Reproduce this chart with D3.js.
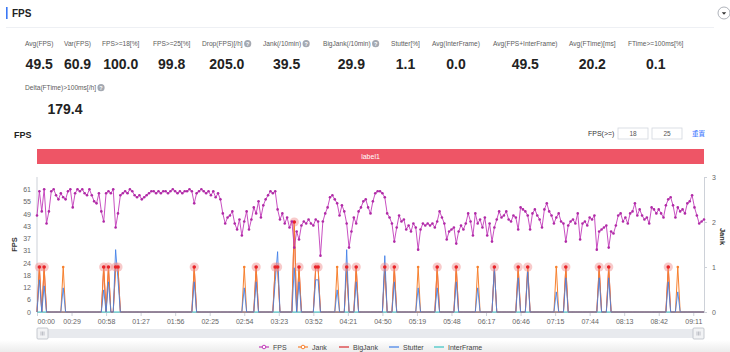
<!DOCTYPE html>
<html>
<head>
<meta charset="utf-8">
<script src="https://cdn.jsdelivr.net/npm/d3@7"></script>
<style>
  body { margin: 0; background: #fff; font-family: "Liberation Sans", Arial, sans-serif; }
  svg text { font-family: "Liberation Sans", Arial, sans-serif; }
</style>
</head>
<body>
<div id="chart"></div>
<script>
// --- data ---
const metricLabels = ["Avg(FPS)", "Var(FPS)", "FPS>=18[%]", "FPS>=25[%]", "Drop(FPS)[/h]", "Jank(/10min)",
  "BigJank(/10min)", "Stutter[%]", "Avg(InterFrame)", "Avg(FPS+InterFrame)", "Avg(FTime)[ms]", "FTime>=100ms[%]"];
const metricValues = ["49.5", "60.9", "100.0", "99.8", "205.0", "39.5", "29.9", "1.1", "0.0", "49.5", "20.2", "0.1"];
const metricHelp = [false, false, false, false, true, true, true, false, false, false, false, false];
const extraLabel = "Delta(FTime)>100ms[/h]";
const extraValue = "179.4";
const thresholds = ["18", "25"];

const sampleStep = 2; // seconds between samples
const fpsValues = [
  48,60,50,61,44,50,60,61,58,56,59,57,56,60,61,52,59,61,60,61,
  59,58,61,58,55,54,59,50,45,59,60,59,61,42,49,58,59,60,59,61,
  60,58,57,58,56,57,58,59,60,60,59,60,59,60,60,59,60,61,60,59,
  60,59,60,60,61,60,54,59,60,61,60,59,60,58,60,57,59,56,49,44,
  47,48,50,44,41,46,38,45,50,41,46,52,49,55,47,53,56,58,60,59,
  60,51,46,49,44,47,42,45,32,40,36,43,45,44,46,44,43,46,45,28,
  45,49,52,57,58,56,54,48,53,50,44,32,40,47,44,50,52,55,56,52,
  49,55,59,60,60,59,57,49,47,44,35,42,48,45,46,41,43,40,44,42,
  31,41,44,43,44,43,44,42,45,50,47,44,36,40,41,42,34,40,43,41,
  44,49,45,38,49,44,46,42,47,38,44,35,42,46,50,47,48,50,46,45,
  48,47,41,52,51,50,48,41,49,51,48,46,42,51,54,50,48,44,47,49,
  45,44,35,43,45,46,44,49,36,44,45,43,47,46,48,31,40,41,42,43,
  32,40,39,43,48,49,45,47,44,49,50,54,48,51,48,46,47,44,52,51,
  49,51,49,47,53,56,57,53,47,52,50,51,49,54,55,58,52,48,44,45,46
];

// jank events (seconds), their jank value and stutter value at the same sample
const jankTimes   = [2, 6, 22, 56, 60, 66, 68, 132, 174, 184, 200, 202, 216, 220, 234, 236, 252, 260, 268,
  292, 300, 320, 336, 352, 370, 384, 404, 412, 436, 444, 472, 480, 530, 538];
const jankValues  = [1, 1, 1, 1, 1, 1, 1, 1, 1, 1, 1, 1, 2, 1, 1, 1, 1, 1, 1,
  1, 1, 1, 1, 1, 1, 1, 1, 1, 1, 1, 1, 1, 1, 1];
const stutterValues = [16, 13, 12, 11, 15, 31, 16, 15, 12, 15, 15, 30, 22, 15, 16, 16, 11, 31, 15,
  28, 15, 12, 12, 15, 12, 22, 17, 20, 10, 17, 17, 17, 15, 10];
const bigJankTimes = [2, 6, 56, 60, 66, 68, 132, 184, 200, 202, 216, 220, 234, 236, 260, 268, 292, 300,
  336, 352, 384, 404, 412, 444, 472, 480, 530];

const xTickLabels = ["00:00", "00:29", "00:58", "01:27", "01:56", "02:25", "02:54", "03:23", "03:52", "04:21",
  "04:50", "05:19", "05:48", "06:17", "06:46", "07:15", "07:44", "08:13", "08:42", "09:11"];
const fpsTickLabels = ["0", "6", "12", "18", "24", "31", "37", "43", "49", "55", "61"];
const fpsTickStep = 6.1;
const fpsAxisMax = 67.1;
const jankTicks = [0, 1, 2, 3];
const legendNames = ["FPS", "Jank", "BigJank", "Stutter", "InterFrame"];

// --- colours ---
const colors = { FPS: "#c23cba", Jank: "#f7812f", BigJank: "#d92a2e", Stutter: "#3f7fe8", InterFrame: "#38c3c3" };

// --- build tables ---
const times = fpsValues.map((d, i) => i * sampleStep);
const jankByTime = new Map(jankTimes.map((t, i) => [t, jankValues[i]]));
const stutterByTime = new Map(jankTimes.map((t, i) => [t, stutterValues[i]]));
const bigSet = new Set(bigJankTimes);
const rows = times.map((t, i) => ({
  t,
  fps: fpsValues[i],
  jank: jankByTime.get(t) || 0,
  big: bigSet.has(t) ? (jankByTime.get(t) || 0) : 0,
  stutter: stutterByTime.get(t) || 0,
  inter: 0
}));
const toSec = (s) => { const p = s.split(":"); return +p[0] * 60 + +p[1]; };

const W = 730, H = 352;
const svg = d3.select("#chart").append("svg").attr("width", W).attr("height", H);

// bottom band (behind everything)
const grad = svg.append("defs").append("linearGradient").attr("id", "band")
  .attr("x1", 0).attr("x2", 0).attr("y1", 0).attr("y2", 1);
grad.append("stop").attr("offset", "0%").attr("stop-color", "#ffffff");
grad.append("stop").attr("offset", "100%").attr("stop-color", "#ececec");
svg.append("rect").attr("x", 0).attr("y", 340).attr("width", W).attr("height", 12).attr("fill", "url(#band)");

// --- page header ---
svg.append("rect").attr("x", 6).attr("y", 7).attr("width", 1.6).attr("height", 12).attr("fill", "#3b78f5");
svg.append("text").attr("x", 12).attr("y", 17).attr("font-size", 10).attr("font-weight", "bold")
  .attr("fill", "#222").text("FPS");
svg.append("line").attr("x1", 6).attr("x2", 714).attr("y1", 27.5).attr("y2", 27.5).attr("stroke", "#eef0f4");
const dd = svg.append("g").attr("transform", "translate(724,13)");
dd.append("circle").attr("r", 6).attr("fill", "#fff").attr("stroke", "#9aa0a8").attr("stroke-width", 0.8);
dd.append("path").attr("d", "M-2.2,-0.8 L2.2,-0.8 L0,1.8 Z").attr("fill", "#333");

// --- metrics ---
const cellX = [25, 64, 102, 153, 202, 263, 323, 391, 432, 493, 569, 628];
function helpIcon(hx, hy) {
  const g = svg.append("g").attr("transform", `translate(${hx},${hy})`);
  g.append("circle").attr("r", 3.6).attr("fill", "#a4a9b2");
  g.append("text").attr("y", 2.2).attr("text-anchor", "middle").attr("font-size", 5.5)
    .attr("font-weight", "bold").attr("fill", "#fff").text("?");
}
function metric(mx, yLabel, yValue, label, value, help) {
  const t = svg.append("text").attr("x", mx).attr("y", yLabel).attr("font-size", 6.6)
    .attr("fill", "#5c5c5c").text(label);
  let w = t.node().getComputedTextLength();
  if (help) { helpIcon(mx + w + 5, yLabel - 2.3); w += 9; }
  svg.append("text").attr("x", mx + w / 2).attr("y", yValue).attr("text-anchor", "middle")
    .attr("font-size", 14).attr("font-weight", "bold").attr("fill", "#222").text(value);
}
metricLabels.forEach((l, i) => metric(cellX[i], 46, 69, l, metricValues[i], metricHelp[i]));
metric(25, 90, 114, extraLabel, extraValue, true);

// --- chart header ---
svg.append("text").attr("x", 14).attr("y", 138).attr("font-size", 9).attr("font-weight", "bold")
  .attr("fill", "#222").text("FPS");
svg.append("text").attr("x", 588).attr("y", 136).attr("font-size", 7).attr("fill", "#333").text("FPS(>=)");
thresholds.forEach((v, i) => {
  const bx = 618 + i * 34;
  svg.append("rect").attr("x", bx).attr("y", 128).attr("width", 30).attr("height", 11)
    .attr("fill", "#fff").attr("stroke", "#d3d7de").attr("stroke-width", 0.8);
  svg.append("text").attr("x", bx + 15).attr("y", 136).attr("text-anchor", "middle")
    .attr("font-size", 6.5).attr("fill", "#555").text(v);
});
svg.append("text").attr("x", 692).attr("y", 136).attr("font-size", 6.5).attr("fill", "#3370ff")
  .style("font-family", "'Noto Sans CJK SC', sans-serif").text("重置");

// --- plot area ---
const pL = 37, pR = 704, pT = 177, pB = 312;
svg.append("rect").attr("x", pL).attr("y", 149).attr("width", pR - pL).attr("height", 15).attr("fill", "#ee5566");
svg.append("text").attr("x", (pL + pR) / 2).attr("y", 159).attr("text-anchor", "middle")
  .attr("font-size", 7).attr("fill", "#fff").text("label1");

const x = d3.scaleLinear().domain([0, d3.max(times)]).range([pL, pR]);
const yL = d3.scaleLinear().domain([0, fpsAxisMax]).range([pB, pT]);
const yR = d3.scaleLinear().domain([0, 3]).range([pB, pT]);

function styleAxis(g) {
  g.select(".domain").attr("stroke", "#cdd1d8");
  g.selectAll(".tick line").attr("stroke", "#cdd1d8");
  g.selectAll(".tick text").attr("fill", "#666").attr("font-size", 7);
}
const xAxis = svg.append("g").attr("transform", `translate(0,${pB})`)
  .call(d3.axisBottom(x).tickValues(xTickLabels.map(toSec)).tickFormat((d, i) => xTickLabels[i])
    .tickSize(4).tickSizeOuter(0).tickPadding(3));
styleAxis(xAxis);
xAxis.selectAll(".tick text").filter((d, i) => i === 0).attr("text-anchor", "start");

const yAxisL = svg.append("g").attr("transform", `translate(${pL},0)`)
  .call(d3.axisLeft(yL).tickValues(fpsTickLabels.map((d, i) => i * fpsTickStep))
    .tickFormat((d, i) => fpsTickLabels[i]).tickSize(0).tickPadding(6));
styleAxis(yAxisL);
yAxisL.select(".domain").attr("d", `M0,${pT}V${pB}`);

const yAxisR = svg.append("g").attr("transform", `translate(${pR},0)`)
  .call(d3.axisRight(yR).tickValues(jankTicks).tickFormat(d3.format("d"))
    .tickSize(3).tickSizeOuter(0).tickPadding(5));
styleAxis(yAxisR);

svg.append("text").attr("transform", `translate(17,${(pT + pB) / 2}) rotate(-90)`)
  .attr("text-anchor", "middle").attr("font-size", 7.5).attr("font-weight", "bold").attr("fill", "#333").text("FPS");
svg.append("text").attr("transform", `translate(720,${(pT + pB) / 2 - 8}) rotate(90)`)
  .attr("text-anchor", "middle").attr("font-size", 7.5).attr("font-weight", "bold").attr("fill", "#333").text("Jank");

// --- series ---
const lineL = (key) => d3.line().x((d) => x(d.t)).y((d) => yL(d[key]));
const lineR = (key) => d3.line().x((d) => x(d.t)).y((d) => yR(d[key]));

svg.append("path").datum(rows).attr("d", lineR("inter")).attr("fill", "none")
  .attr("stroke", colors.InterFrame).attr("stroke-width", 1.2);
svg.append("path").datum(rows).attr("d", lineR("big")).attr("fill", "none")
  .attr("stroke", colors.BigJank).attr("stroke-width", 0.8);
svg.append("path").datum(rows).attr("d", lineR("jank")).attr("fill", "none")
  .attr("stroke", colors.Jank).attr("stroke-width", 1);
svg.append("path").datum(rows).attr("d", lineL("stutter")).attr("fill", "none")
  .attr("stroke", colors.Stutter).attr("stroke-width", 1).attr("stroke-opacity", 0.85);

// jank dots
const jankPts = rows.filter((d) => d.jank > 0);
svg.append("g").selectAll("circle").data(jankPts).join("circle")
  .attr("cx", (d) => x(d.t)).attr("cy", (d) => yR(d.jank)).attr("r", 1.3).attr("fill", colors.Jank);
// big jank halos
const bigPts = rows.filter((d) => d.big > 0);
const bg = svg.append("g");
bg.selectAll("circle.halo").data(bigPts).join("circle").attr("class", "halo")
  .attr("cx", (d) => x(d.t)).attr("cy", (d) => yR(d.big)).attr("r", 4.6)
  .attr("fill", "#f08a8a").attr("fill-opacity", 0.45);
bg.selectAll("circle.dot").data(bigPts).join("circle").attr("class", "dot")
  .attr("cx", (d) => x(d.t)).attr("cy", (d) => yR(d.big)).attr("r", 1.8).attr("fill", "#e8232a");

// FPS line + dots
svg.append("path").datum(rows).attr("d", lineL("fps")).attr("fill", "none")
  .attr("stroke", colors.FPS).attr("stroke-width", 0.9);
svg.append("g").selectAll("circle").data(rows).join("circle")
  .attr("cx", (d) => x(d.t)).attr("cy", (d) => yL(d.fps)).attr("r", 1.3).attr("fill", "#b02aa6");

// --- data zoom slider ---
svg.append("rect").attr("x", pL).attr("y", 329).attr("width", pR - pL).attr("height", 9).attr("fill", "#e8eaee");
[pL, pR - 11].forEach((hx) => {
  const h = svg.append("g").attr("transform", `translate(${hx},328)`);
  h.append("rect").attr("width", 11).attr("height", 11).attr("rx", 1).attr("fill", "#f2f3f5")
    .attr("stroke", "#b9bdc4").attr("stroke-width", 0.8);
  [4, 5.5, 7].forEach((lx) => h.append("line").attr("x1", lx).attr("x2", lx).attr("y1", 3.5).attr("y2", 7.5)
    .attr("stroke", "#9aa0a8").attr("stroke-width", 0.6));
});

// --- legend ---
const legendX = [259, 298, 339, 389, 434];
legendNames.forEach((n, i) => {
  const g = svg.append("g").attr("transform", `translate(${legendX[i]},347)`);
  g.append("line").attr("x1", 0).attr("x2", 10).attr("stroke", colors[n]).attr("stroke-width", 1.2);
  if (n === "FPS" || n === "Jank") {
    g.append("circle").attr("cx", 5).attr("r", 1.8).attr("fill", "#fff").attr("stroke", colors[n]).attr("stroke-width", 1);
  }
  g.append("text").attr("x", 14).attr("y", 2.5).attr("font-size", 7).attr("fill", "#444").text(n);
});
</script>
</body>
</html>
